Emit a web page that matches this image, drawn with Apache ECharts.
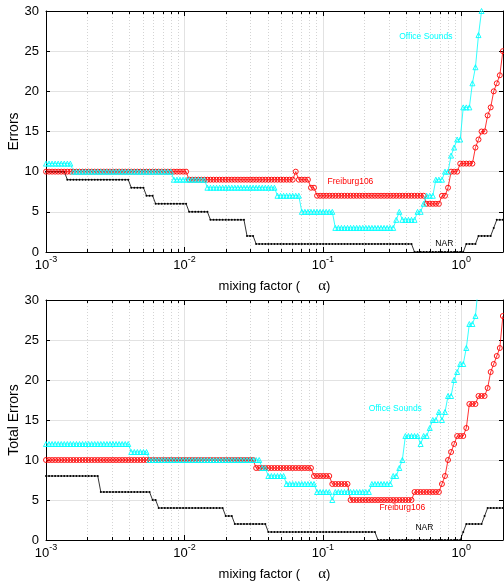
<!DOCTYPE html>
<html lang="en" style="height: 100%">
<head>
  <meta charset="utf-8">
</head>
<body style="height: 100%; margin: 0; background: #fff">
  <div id="container" style="width: 504px; height: 584px"></div>
  <script type="text/javascript" src="https://cdn.jsdelivr.net/npm/echarts@6/dist/echarts.min.js"></script>
  <script type="text/javascript">
    // sample grid, log10(alpha)
    var logAlpha = [
      -3.000, -2.978, -2.956, -2.934, -2.912, -2.890, -2.868, -2.846, -2.824, -2.802,
      -2.780, -2.758, -2.736, -2.714, -2.692, -2.670, -2.648, -2.626, -2.604, -2.582,
      -2.560, -2.538, -2.516, -2.494, -2.472, -2.450, -2.428, -2.406, -2.384, -2.362,
      -2.340, -2.318, -2.296, -2.274, -2.252, -2.230, -2.208, -2.186, -2.164, -2.142,
      -2.120, -2.098, -2.076, -2.054, -2.032, -2.010, -1.988, -1.966, -1.944, -1.922,
      -1.900, -1.878, -1.856, -1.834, -1.812, -1.790, -1.768, -1.746, -1.724, -1.702,
      -1.680, -1.658, -1.636, -1.614, -1.592, -1.570, -1.548, -1.526, -1.504, -1.482,
      -1.460, -1.438, -1.416, -1.394, -1.372, -1.350, -1.328, -1.306, -1.284, -1.262,
      -1.240, -1.218, -1.196, -1.174, -1.152, -1.130, -1.108, -1.086, -1.064, -1.042,
      -1.020, -0.998, -0.976, -0.954, -0.932, -0.910, -0.888, -0.866, -0.844, -0.822,
      -0.800, -0.778, -0.756, -0.734, -0.712, -0.690, -0.668, -0.646, -0.624, -0.602,
      -0.580, -0.558, -0.536, -0.514, -0.492, -0.470, -0.448, -0.426, -0.404, -0.382,
      -0.360, -0.338, -0.316, -0.294, -0.272, -0.250, -0.228, -0.206, -0.184, -0.162,
      -0.140, -0.118, -0.096, -0.074, -0.052, -0.030, -0.008, 0.014, 0.036, 0.058,
      0.080, 0.102, 0.124, 0.146, 0.168, 0.190, 0.212, 0.234, 0.256, 0.278,
      0.300
    ];

    // upper panel: Errors
    var topNar = [
      10, 10, 10, 10, 10, 10, 10, 9, 9, 9,
      9, 9, 9, 9, 9, 9, 9, 9, 9, 9,
      9, 9, 9, 9, 9, 9, 9, 9, 8, 8,
      8, 8, 8, 7, 7, 7, 6, 6, 6, 6,
      6, 6, 6, 6, 6, 6, 6, 5, 5, 5,
      5, 5, 5, 5, 4, 4, 4, 4, 4, 4,
      4, 4, 4, 4, 4, 4, 2, 2, 2, 1,
      1, 1, 1, 1, 1, 1, 1, 1, 1, 1,
      1, 1, 1, 1, 1, 1, 1, 1, 1, 1,
      1, 1, 1, 1, 1, 1, 1, 1, 1, 1,
      1, 1, 1, 1, 1, 1, 1, 1, 1, 1,
      1, 1, 1, 1, 1, 1, 1, 1, 1, 1,
      1, 0, 0, 0, 0, 0, 0, 0, 0, 0,
      0, 0, 0, 0, 0, 0, 0, 0, 1, 1,
      1, 1, 2, 2, 2, 2, 2, 3, 4, 4,
      4
    ];
    var topFreiburg = [
      10, 10, 10, 10, 10, 10, 10, 10, 10, 10,
      10, 10, 10, 10, 10, 10, 10, 10, 10, 10,
      10, 10, 10, 10, 10, 10, 10, 10, 10, 10,
      10, 10, 10, 10, 10, 10, 10, 10, 10, 10,
      10, 10, 10, 10, 10, 10, 10, 9, 9, 9,
      9, 9, 9, 9, 9, 9, 9, 9, 9, 9,
      9, 9, 9, 9, 9, 9, 9, 9, 9, 9,
      9, 9, 9, 9, 9, 9, 9, 9, 9, 9,
      9, 9, 10, 9, 9, 9, 9, 8, 8, 7,
      7, 7, 7, 7, 7, 7, 7, 7, 7, 7,
      7, 7, 7, 7, 7, 7, 7, 7, 7, 7,
      7, 7, 7, 7, 7, 7, 7, 7, 7, 7,
      7, 7, 7, 7, 7, 6, 6, 6, 6, 6,
      7, 7, 8, 10, 10, 10, 11, 11, 11, 11,
      11, 13, 14, 15, 15, 17, 18, 20, 21, 22,
      25
    ];
    var topOffice = [
      11, 11, 11, 11, 11, 11, 11, 11, 11, 10,
      10, 10, 10, 10, 10, 10, 10, 10, 10, 10,
      10, 10, 10, 10, 10, 10, 10, 10, 10, 10,
      10, 10, 10, 10, 10, 10, 10, 10, 10, 10,
      10, 10, 9, 9, 9, 9, 9, 9, 9, 9,
      9, 9, 9, 8, 8, 8, 8, 8, 8, 8,
      8, 8, 8, 8, 8, 8, 8, 8, 8, 8,
      8, 8, 8, 8, 8, 8, 7, 7, 7, 7,
      7, 7, 7, 7, 5, 5, 5, 5, 5, 5,
      5, 5, 5, 5, 5, 3, 3, 3, 3, 3,
      3, 3, 3, 3, 3, 3, 3, 3, 3, 3,
      3, 3, 3, 3, 3, 4, 5, 4, 4, 4,
      4, 4, 5, 5, 6, 7, 7, 7, 9, 9,
      9, 10, 10, 12, 13, 14, 14, 18, 18, 18,
      21, 23, 27, 30, null, null, null, null, null, null,
      null
    ];

    // lower panel: Total Errors
    var botNar = [
      8, 8, 8, 8, 8, 8, 8, 8, 8, 8,
      8, 8, 8, 8, 8, 8, 8, 8, 6, 6,
      6, 6, 6, 6, 6, 6, 6, 6, 6, 6,
      6, 6, 6, 6, 6, 5, 5, 4, 4, 4,
      4, 4, 4, 4, 4, 4, 4, 4, 4, 4,
      4, 4, 4, 4, 4, 4, 4, 4, 4, 3,
      3, 3, 2, 2, 2, 2, 2, 2, 2, 2,
      2, 2, 2, 1, 1, 1, 1, 1, 1, 1,
      1, 1, 1, 1, 1, 1, 1, 1, 1, 1,
      1, 1, 1, 1, 1, 1, 1, 1, 1, 1,
      1, 1, 1, 1, 1, 1, 1, 1, 1, 0,
      0, 0, 0, 0, 0, 0, 0, 0, 0, 0,
      0, 0, 0, 0, 0, 0, 0, 0, 0, 0,
      0, 0, 0, 0, 0, 0, 0, 1, 2, 2,
      2, 2, 2, 2, 3, 4, 4, 4, 4, 4,
      4
    ];
    var botFreiburg = [
      10, 10, 10, 10, 10, 10, 10, 10, 10, 10,
      10, 10, 10, 10, 10, 10, 10, 10, 10, 10,
      10, 10, 10, 10, 10, 10, 10, 10, 10, 10,
      10, 10, 10, 10, 10, 10, 10, 10, 10, 10,
      10, 10, 10, 10, 10, 10, 10, 10, 10, 10,
      10, 10, 10, 10, 10, 10, 10, 10, 10, 10,
      10, 10, 10, 10, 10, 10, 10, 10, 10, 9,
      9, 9, 9, 9, 9, 9, 9, 9, 9, 9,
      9, 9, 9, 9, 9, 9, 9, 9, 8, 8,
      8, 8, 8, 8, 7, 7, 7, 7, 7, 7,
      5, 5, 5, 5, 5, 5, 5, 5, 5, 5,
      5, 5, 5, 5, 5, 5, 5, 5, 5, 5,
      5, 6, 6, 6, 6, 6, 6, 6, 6, 6,
      7, 8, 10, 11, 12, 13, 13, 13, 14, 17,
      17, 17, 18, 18, 18, 19, 21, 22, 23, 24,
      28
    ];
    var botOffice = [
      12, 12, 12, 12, 12, 12, 12, 12, 12, 12,
      12, 12, 12, 12, 12, 12, 12, 12, 12, 12,
      12, 12, 12, 12, 12, 12, 12, 12, 11, 11,
      11, 11, 11, 11, 10, 10, 10, 10, 10, 10,
      10, 10, 10, 10, 10, 10, 10, 10, 10, 10,
      10, 10, 10, 10, 10, 10, 10, 10, 10, 10,
      10, 10, 10, 10, 10, 10, 10, 10, 10, 10,
      10, 9, 9, 8, 8, 8, 8, 8, 8, 7,
      7, 7, 7, 7, 7, 7, 7, 7, 7, 6,
      6, 6, 6, 6, 5, 6, 6, 6, 6, 6,
      6, 6, 6, 6, 6, 6, 6, 7, 7, 7,
      7, 7, 7, 7, 8, 8, 9, 10, 13, 13,
      13, 13, 13, 12, 13, 13, 14, 15, 15, 16,
      15, 16, 18, 18, 20, 21, 22, 22, 24, 27,
      27, 28, 32, null, null, null, null, null, null, null,
      null
    ];

    var majorTicks = [0.001, 0.01, 0.1, 1];
    var minorTicks = [
      0.002, 0.003, 0.004, 0.005, 0.006, 0.007, 0.008, 0.009,
      0.02, 0.03, 0.04, 0.05, 0.06, 0.07, 0.08, 0.09,
      0.2, 0.3, 0.4, 0.5, 0.6, 0.7, 0.8, 0.9, 2
    ];

    // in-plot text: [text, alpha, errors]
    var topNotes = [['NAR', 0.649, 1.05], ['Freiburg106', 0.108, 8.73], ['Office Sounds', 0.356, 26.8]];
    var botNotes = [['NAR', 0.466, 1.55], ['Freiburg106', 0.256, 4.1], ['Office Sounds', 0.214, 16.4]];

    var FONT = 'Liberation Sans, Arial, sans-serif';
    var colors = { nar: '#000000', freiburg: '#ff0000', office: '#00ffff' };

    function pairs(ys) {
      var out = [];
      for (var i = 0; i < logAlpha.length; i++) {
        if (ys[i] !== null) out.push([Math.pow(10, logAlpha[i]), ys[i]]);
      }
      return out;
    }

    function note(n, color) {
      return {
        symbol: 'circle',
        symbolSize: 0,
        silent: true,
        label: { show: true, position: 'right', distance: 0, formatter: '{b}', color: color, fontSize: 8.5, fontFamily: FONT },
        data: [{ name: n[0], coord: [n[1], n[2]] }]
      };
    }

    function xAxes(g) {
      var base = { gridIndex: g, type: 'log', logBase: 10, min: 0.001, max: 2 };
      return [
        Object.assign({}, base, {
          position: 'bottom',
          name: '{t|mixing factor (     }{a|α}{t|)}',
          nameLocation: 'middle',
          nameGap: 27,
          nameMoveOverlap: false,
          nameTextStyle: {
            rich: {
              t: { fontSize: 13, fontFamily: FONT, color: '#000' },
              a: { fontSize: 15, fontFamily: 'Liberation Serif, serif', color: '#000' }
            }
          },
          axisLine: { show: true, lineStyle: { color: '#000', width: 1 } },
          axisTick: { show: true, inside: true, length: 5, customValues: majorTicks, lineStyle: { color: '#000' } },
          axisLabel: {
            show: true,
            customValues: majorTicks,
            margin: 3,
            formatter: function (v) {
              return '{b|10}{s|' + Math.round(Math.log10(v)) + '}';
            },
            rich: {
              b: { fontSize: 13, fontFamily: FONT, color: '#000', lineHeight: 17, verticalAlign: 'bottom' },
              s: { fontSize: 9, fontFamily: FONT, color: '#000', verticalAlign: 'top' }
            }
          },
          splitLine: { show: true, lineStyle: { color: '#e2e2e2', width: 1 } }
        }),
        Object.assign({}, base, {
          position: 'bottom',
          axisLine: { show: false },
          axisTick: { show: true, inside: true, length: 3, customValues: minorTicks, lineStyle: { color: '#000' } },
          axisLabel: { show: false },
          splitLine: { show: true, lineStyle: { color: '#d4d4d4', width: 1, type: [1, 2] } }
        }),
        Object.assign({}, base, {
          position: 'top',
          axisLine: { show: true, lineStyle: { color: '#000', width: 1 } },
          axisTick: { show: true, inside: true, length: 5, customValues: majorTicks, lineStyle: { color: '#000' } },
          axisLabel: { show: false },
          splitLine: { show: false }
        }),
        Object.assign({}, base, {
          position: 'top',
          axisLine: { show: false },
          axisTick: { show: true, inside: true, length: 3, customValues: minorTicks, lineStyle: { color: '#000' } },
          axisLabel: { show: false },
          splitLine: { show: false }
        })
      ];
    }

    function yAxes(g, title) {
      return [
        {
          gridIndex: g, type: 'value', min: 0, max: 30, interval: 5, position: 'left',
          name: title, nameLocation: 'middle', nameGap: 25, nameMoveOverlap: false,
          nameTextStyle: { fontSize: 14, fontFamily: FONT, color: '#000' },
          axisLine: { show: true, lineStyle: { color: '#000', width: 1 } },
          axisTick: { show: true, inside: true, length: 4, lineStyle: { color: '#000' } },
          axisLabel: { fontSize: 13, fontFamily: FONT, color: '#000', margin: 7 },
          splitLine: { show: true, lineStyle: { color: '#e2e2e2', width: 1 } }
        },
        {
          gridIndex: g, type: 'value', min: 0, max: 30, interval: 5, position: 'right',
          axisLine: { show: true, lineStyle: { color: '#000', width: 1 } },
          axisTick: { show: true, inside: true, length: 4, lineStyle: { color: '#000' } },
          axisLabel: { show: false },
          splitLine: { show: false }
        }
      ];
    }

    function series(g, nar, frei, office, notes) {
      var xi = g * 4, yi = g * 2;
      return [
        {
          type: 'line', xAxisIndex: xi, yAxisIndex: yi, data: pairs(nar),
          symbol: 'circle', symbolSize: 2, showAllSymbol: true,
          itemStyle: { color: colors.nar },
          lineStyle: { color: colors.nar, width: 0.8 },
          markPoint: note(notes[0], colors.nar)
        },
        {
          type: 'line', xAxisIndex: xi, yAxisIndex: yi, data: pairs(frei),
          symbol: 'circle', symbolSize: 5, showAllSymbol: true,
          itemStyle: { color: 'rgba(0,0,0,0)', borderColor: colors.freiburg, borderWidth: 0.9 },
          lineStyle: { color: colors.freiburg, width: 0.8 },
          markPoint: note(notes[1], colors.freiburg)
        },
        {
          type: 'line', xAxisIndex: xi, yAxisIndex: yi, data: pairs(office),
          symbol: 'triangle', symbolSize: [5, 5], showAllSymbol: true,
          itemStyle: { color: 'rgba(0,0,0,0)', borderColor: colors.office, borderWidth: 0.9 },
          lineStyle: { color: colors.office, width: 0.8 },
          markPoint: note(notes[2], colors.office)
        }
      ];
    }

    var myChart = echarts.init(document.getElementById('container'), null, { renderer: 'canvas' });
    var option = {
      animation: false,
      backgroundColor: '#ffffff',
      textStyle: { fontFamily: FONT },
      grid: [
        { left: 46, right: 1, top: 11, height: 241, outerBoundsMode: 'none' },
        { left: 46, right: 1, top: 300, height: 240, outerBoundsMode: 'none' }
      ],
      xAxis: xAxes(0).concat(xAxes(1)),
      yAxis: yAxes(0, 'Errors').concat(yAxes(1, 'Total Errors')),
      series: series(0, topNar, topFreiburg, topOffice, topNotes)
        .concat(series(1, botNar, botFreiburg, botOffice, botNotes))
    };
    myChart.setOption(option);
    window.addEventListener('resize', myChart.resize);
  </script>
</body>
</html>
